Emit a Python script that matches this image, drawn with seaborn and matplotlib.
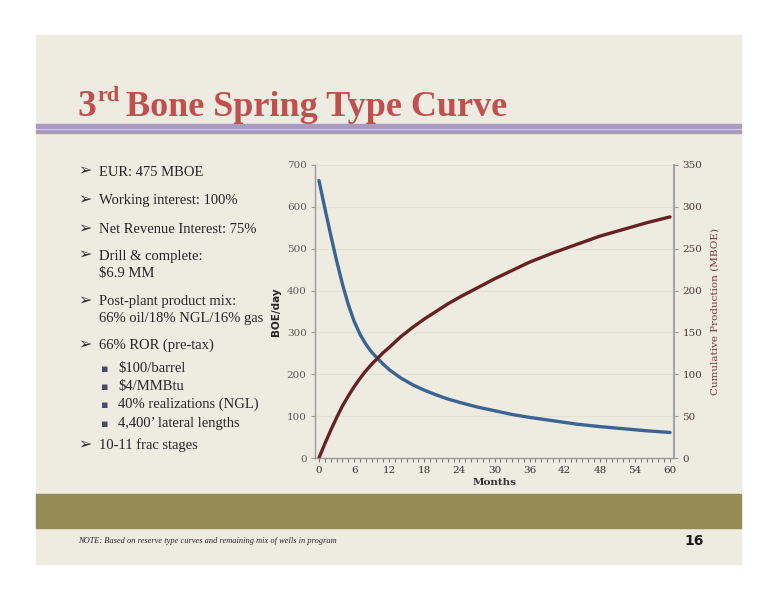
import matplotlib.pyplot as plt
import numpy as np
import pandas as pd
import seaborn as sns
from matplotlib.patches import Rectangle
from matplotlib.ticker import MultipleLocator

# values
months = [0, 1, 2, 3, 4, 5, 6, 7, 8, 9, 10, 11, 12, 14, 16, 18, 20, 22, 24, 27, 30, 33,
          36, 40, 44, 48, 52, 56, 60]
boe_per_day = [663, 597, 533, 472, 416, 367, 327, 296, 272, 253, 238, 224, 211, 191, 175,
               162, 151, 141, 133, 122, 113, 104, 97, 89, 81, 75, 70, 65, 61]
cum_mboe = [0, 17, 33, 48, 62, 74, 85, 95, 104, 112, 119, 126, 132, 145, 156, 166, 175,
            184, 192, 203, 214, 224, 234, 245, 255, 265, 273, 281, 288]

x_ticks = list(range(0, 61, 6))
left_ticks = list(range(0, 701, 100))
right_ticks = list(range(0, 351, 50))

# (lines, baseline of first line in px)
bullets = [
    (["EUR: 475 MBOE"], 176),
    (["Working interest: 100%"], 204),
    (["Net Revenue Interest: 75%"], 233),
    (["Drill & complete:", "$6.9 MM"], 260),
    (["Post-plant product mix:", "66% oil/18% NGL/16% gas"], 305),
    (["66% ROR (pre-tax)"], 349),
    (["10-11 frac stages"], 449),
]
sub_bullets = [
    ("$100/barrel", 372),
    ("$4/MMBtu", 390),
    ("40% realizations (NGL)", 408),
    ("4,400\u2019 lateral lengths", 427),
]

df = pd.DataFrame({"month": months, "boe": boe_per_day, "cum": cum_mboe})

W, H = 776, 600
BG = "#eeebe1"
BLUE = "#3a6494"
MAROON = "#662222"
TICK_C = "#595959"

sns.set_theme(style="white")
plt.rcParams["font.family"] = ["DejaVu Serif", "DejaVu Sans"]

fig = plt.figure(figsize=(W / 100, H / 100), dpi=100)
fig.patch.set_facecolor("white")


def fx(x):
    return x / W


def fy(y):
    return 1 - y / H


# slide panel, title rules and footer band
fig.patches.append(Rectangle((fx(36), fy(564)), fx(741) - fx(36), fy(35) - fy(564),
                             transform=fig.transFigure, color=BG, zorder=-3))
for y0, y1 in [(124, 127.5), (130, 133)]:
    fig.patches.append(Rectangle((fx(36), fy(y1)), fx(741) - fx(36), fy(y0) - fy(y1),
                                 transform=fig.transFigure, color="#a99bc0", zorder=-2))
fig.patches.append(Rectangle((fx(36), fy(528)), fx(741) - fx(36), fy(494) - fy(528),
                             transform=fig.transFigure, color="#958b55", zorder=-2))

# title
title_font = ["Liberation Serif", "DejaVu Serif"]
fig.text(fx(77), fy(116), "3", fontsize=27, fontweight="bold", color="#c0504d",
         family=title_font, va="baseline")
fig.text(fx(97), fy(101), "rd", fontsize=16, fontweight="bold", color="#c0504d",
         family=title_font, va="baseline")
fig.text(fx(126), fy(116), "Bone Spring Type Curve", fontsize=26, fontweight="bold",
         color="#c0504d", family=title_font, va="baseline")

# bullet list
body_font = ["Liberation Serif", "DejaVu Serif"]
for lines, y in bullets:
    fig.text(fx(78), fy(y), "\u27a2", fontsize=11.5, color="#333333", family="DejaVu Sans",
             va="baseline")
    for i, line in enumerate(lines):
        fig.text(fx(99), fy(y + 17 * i), line, fontsize=10.5, color="#262626",
                 family=body_font, va="baseline")
for text, y in sub_bullets:
    fig.text(fx(101), fy(y), "\u25aa", fontsize=8, color="#4a4a6a", family="DejaVu Sans",
             va="baseline")
    fig.text(fx(118), fy(y), text, fontsize=10.5, color="#262626", family=body_font,
             va="baseline")

# footer
fig.text(fx(78), fy(543), "NOTE: Based on reserve type curves and remaining mix of wells in program",
         fontsize=6.0, style="italic", color="#262626", family=body_font, va="baseline")
fig.text(fx(684), fy(541), "16", fontsize=10, fontweight="bold", color="#1a1a1a",
         family="DejaVu Sans", va="center")

# chart
ax = fig.add_axes([fx(315), fy(458), fx(674) - fx(315), fy(165) - fy(458)])
ax.patch.set_alpha(0)
sns.lineplot(data=df, x="month", y="boe", ax=ax, color=BLUE, linewidth=2.4, legend=False)
ax.set_xlim(-0.68, 60.68)
ax.set_ylim(0, 700)
ax.set_yticks(left_ticks)
ax.set_xticks(x_ticks)
ax.xaxis.set_minor_locator(MultipleLocator(1))
ax.yaxis.grid(True, color="#e3e0d6", linewidth=0.8)
ax.set_axisbelow(True)
for s in ["top", "right"]:
    ax.spines[s].set_visible(False)
for s in ["left", "bottom"]:
    ax.spines[s].set_color("#9a9a9a")
    ax.spines[s].set_linewidth(1.0)
ax.tick_params(axis="x", which="both", direction="out", length=3, width=0.8,
               color="#7a7a7a", labelsize=7.5, labelcolor="#333333", pad=3, bottom=True)
ax.tick_params(axis="y", direction="out", length=3, width=0.8, color="#9a9a9a",
               labelsize=7.5, labelcolor=TICK_C, left=True, pad=3)
ax.set_xlabel("Months", fontsize=7.5, fontweight="bold", color="#333333", labelpad=2)
ax.set_ylabel("BOE/day", fontsize=7.5, fontweight="bold", color="#262626",
              family="DejaVu Sans", labelpad=4)

ax2 = ax.twinx()
sns.lineplot(data=df, x="month", y="cum", ax=ax2, color=MAROON, linewidth=2.4, legend=False)
ax2.set_ylim(0, 350)
ax2.set_yticks(right_ticks)
for s in ["top", "left", "bottom"]:
    ax2.spines[s].set_visible(False)
ax2.spines["right"].set_color("#9a9a9a")
ax2.tick_params(axis="y", direction="out", length=3, width=0.8, color="#9a9a9a",
                labelsize=7.5, labelcolor="#4a3a3a", right=True, pad=3)
ax2.set_ylabel("Cumulative Production (MBOE)", fontsize=7.5, color="#7a3535", labelpad=6)
ax2.grid(False)

fig.savefig("out.png", dpi=100, facecolor="white")
